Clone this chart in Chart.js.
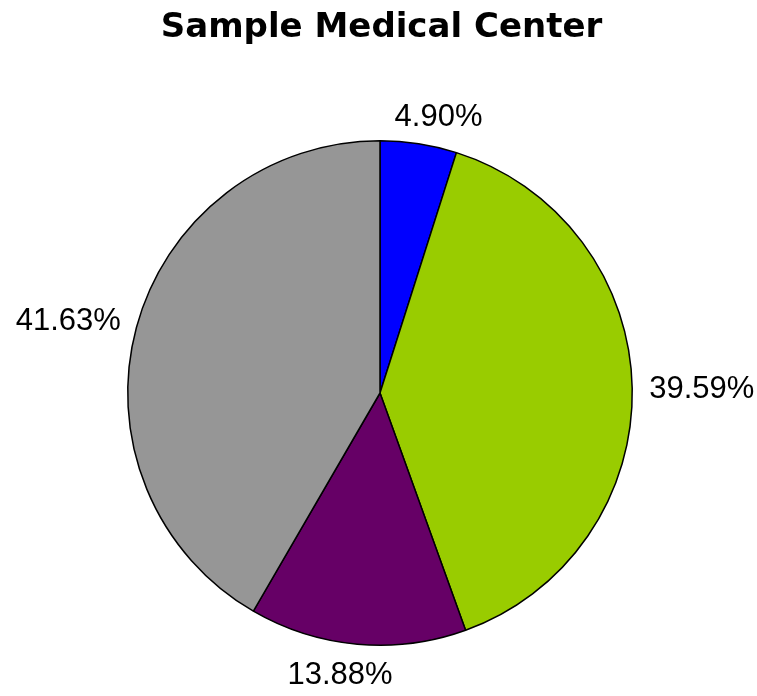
<!DOCTYPE html>
<html>
<head>
<meta charset="utf-8">
<script src="https://cdn.jsdelivr.net/npm/chart.js"></script>
<style>
  html, body { margin: 0; padding: 0; background: #fff; }
  #wrap { width: 757px; height: 696px; position: relative; }
</style>
</head>
<body>
<div id="wrap"><canvas id="pieChart"></canvas></div>
<script>
// Chart data
const chartTitle = 'Sample Medical Center';
const categories = ['Slice A', 'Slice B', 'Slice C', 'Slice D'];
const percentages = [4.90, 39.59, 13.88, 41.63];
const sliceColors = ['#0000ff', '#99cc00', '#660066', '#969696'];

// Draws the title and the percentage labels outside the pie
const outsideLabels = {
    id: 'outsideLabels',
    afterDraw(chart) {
        const ctx = chart.ctx;
        ctx.save();
        ctx.fillStyle = '#000';
        ctx.font = 'bold 34px "DejaVu Sans", Verdana, sans-serif';
        ctx.textAlign = 'center';
        ctx.textBaseline = 'alphabetic';
        ctx.fillText(chartTitle, chart.width / 2 + 3, 37);

        ctx.font = '31px "Liberation Sans", Arial, sans-serif';
        ctx.textBaseline = 'middle';
        const meta = chart.getDatasetMeta(0);
        meta.data.forEach(function(arc, i) {
            const mid = (arc.startAngle + arc.endAngle) / 2;
            const cx = arc.x, cy = arc.y;
            const d = arc.outerRadius + 17;
            const s = Math.cos(mid), c = Math.sin(mid);
            const text = percentages[i].toFixed(2) + '%';
            const w = ctx.measureText(text).width;
            const h = 24;
            const x = cx + d * s + Math.sign(s) * Math.sqrt(Math.abs(s)) * w / 2;
            const y = cy + d * c + c * h / 2 + 2;
            ctx.textAlign = 'center';
            ctx.fillText(text, x, y);
        });
        ctx.restore();
    }
};

new Chart(document.getElementById('pieChart'), {
    type: 'pie',
    data: {
        labels: categories,
        datasets: [{
            data: percentages,
            backgroundColor: sliceColors,
            borderColor: '#000',
            borderWidth: 1.5
        }]
    },
    options: {
        responsive: true,
        maintainAspectRatio: false,
        animation: false,
        layout: {
            padding: { left: 127, right: 124, top: 140, bottom: 50 }
        },
        plugins: {
            legend: { display: false },
            title: { display: false },
            tooltip: { enabled: false }
        }
    },
    plugins: [outsideLabels]
});
</script>
</body>
</html>
